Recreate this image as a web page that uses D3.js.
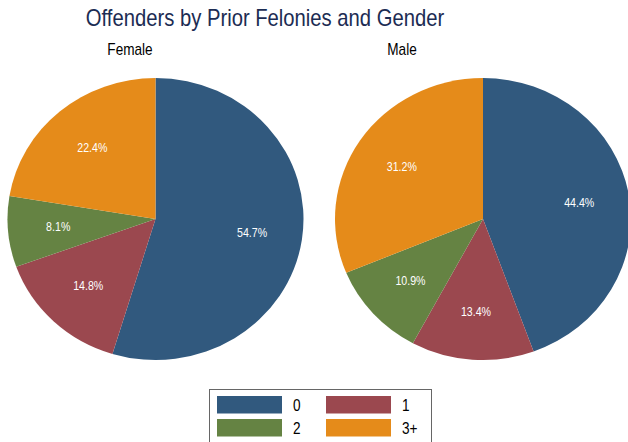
<!DOCTYPE html>
<html>
<head>
<meta charset="utf-8">
<script src="https://cdn.jsdelivr.net/npm/d3@7"></script>
<style>
body { margin: 0; background: #fff; }
text { font-family: "Liberation Sans", Arial, sans-serif; }
</style>
</head>
<body>
<script>
var categories = ["0", "1", "2", "3+"];
var groups = ["Female", "Male"];
var femaleValues = [54.7, 14.8, 8.1, 22.4];
var maleValues = [44.4, 13.4, 10.9, 31.2];

var width = 628, height = 442;
var squeeze = 0.85; // text in the picture looks horizontally narrowed

var svg = d3.select("body").append("svg")
  .attr("width", width)
  .attr("height", height);

var color = d3.scaleOrdinal()
  .domain(categories)
  .range(["#31597e", "#9b484f", "#658343", "#e58b1a"]);

var addText = function(parent, x, y, str, size, fill, anchor, sq) {
  return parent.append("text")
    .attr("transform", "translate(" + x + "," + y + ") scale(" + (sq || squeeze) + ",1)")
    .attr("text-anchor", anchor || "middle")
    .attr("font-size", size)
    .attr("fill", fill)
    .text(str);
}

addText(svg, 265, 26, "Offenders by Prior Felonies and Gender", 23, "#1c2c53", "middle", 0.88);

var rx = 148, ry = 141;
var pieCenters = d3.scalePoint().domain(groups).range([155.5, 483]);
var titleX = {"Female": 130, "Male": 402};

var pie = d3.pie().sort(null).value(d => d.value);
var arc = d3.arc().innerRadius(0).outerRadius(rx);
var labelArc = d3.arc().innerRadius(rx * 0.66).outerRadius(rx * 0.66);

var drawPie = function(name, values) {
  var cx = pieCenters(name), cy = 219;
  var data = categories.map((c, i) => ({cat: c, value: values[i]}));
  var slices = pie(data);

  addText(svg, titleX[name], 55, name, 16, "#000");

  var g = svg.append("g")
    .attr("transform", "translate(" + cx + "," + cy + ") scale(1," + (ry / rx) + ")");
  g.selectAll("path")
    .data(slices)
    .enter()
    .append("path")
    .attr("d", arc)
    .attr("fill", d => color(d.data.cat));

  slices.forEach(function(s) {
    var c = labelArc.centroid(s);
    addText(svg, cx + c[0], cy + c[1] * ry / rx + 4, s.data.value.toFixed(1) + "%", 12.5, "#fff");
  });
}

drawPie("Female", femaleValues);
drawPie("Male", maleValues);

// legend
var legend = svg.append("g");
legend.append("rect")
  .attr("x", 209.5).attr("y", 389.5)
  .attr("width", 222).attr("height", 60)
  .attr("fill", "#fff")
  .attr("stroke", "#666");

var legX = d3.scaleOrdinal().domain([0, 1]).range([217, 326]);
var legY = d3.scaleOrdinal().domain([0, 1]).range([396, 419]);

categories.forEach(function(c, i) {
  var col = i % 2, row = Math.floor(i / 2);
  legend.append("rect")
    .attr("x", legX(col)).attr("y", legY(row))
    .attr("width", 65).attr("height", 17.5)
    .attr("fill", color(c));
  addText(legend, legX(col) + 76, legY(row) + 15, c, 16, "#000", "start");
});
</script>
</body>
</html>
